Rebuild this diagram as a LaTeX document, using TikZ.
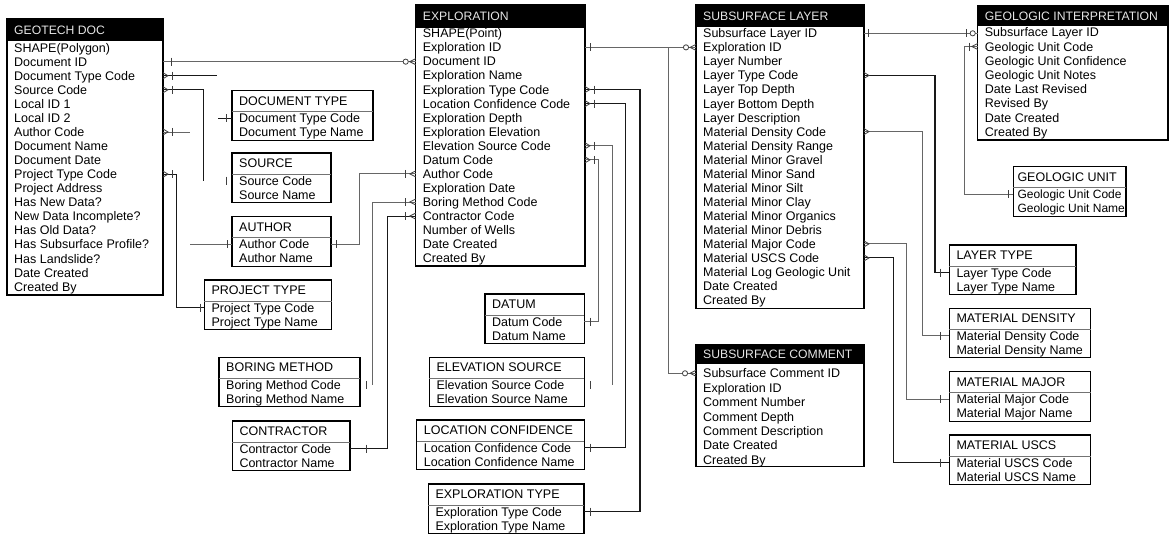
\documentclass[tikz,border=0pt]{standalone}
\usepackage{fontspec}
\setmainfont{Liberation Sans}
\usetikzlibrary{calc,fit}
\def\RS{12.5}
\tikzset{
  box/.style={draw=black, line width=1.3pt, inner sep=0pt, outer sep=0pt, fill=white},
  hdrfill/.style={fill=black, draw=black, line width=1.3pt, inner sep=0pt, outer sep=0pt},
  rowtxt/.style={anchor=base west, inner sep=0pt, font=\fontsize{\RS}{14}\selectfont},
  hdrtxt/.style={anchor=base west, inner sep=0pt, text=black!10, font=\fontsize{12.2}{14}\selectfont},
  lhdrtxt/.style={anchor=base west, inner sep=0pt, font=\fontsize{12.5}{14}\selectfont},
  conn/.style={draw=black!60, line width=0.9pt},
  connd/.style={draw=black!90, line width=1.1pt},
  mk/.style={draw=black!75, line width=0.8pt},
}
\def\LX{7}
\newcommand{\Entity}[7]{%
  \coordinate (#1-nw) at (#2,#3);
  \coordinate (#1-se) at (#4,#6);
  \coordinate (#1-hse) at (#4,#5);
  \node[box, fit=(#1-nw)(#1-se)] (#1) {};
  \node[hdrfill, fit=(#1-nw)(#1-hse)] (#1-hdr) {};
  \node[hdrtxt] (#1-title) at (#2+7,{(#3+#5)/2+4.5}) {#7};
  \foreach \t [count=\i from 0] in \Rows {
    \coordinate (#1-c\i) at (#2,{\F+\i*\P});
    \node[rowtxt] (#1-r\i) at (#2+7,{\F+\i*\P+4.5}) {\t};
  }
}
\newcommand{\Lookup}[7]{%
  \coordinate (#1-nw) at (#2,#3);
  \coordinate (#1-se) at (#4,#3+49.5);
  \node[box, fit=(#1-nw)(#1-se)] (#1) {};
  \draw[draw=black!55, line width=0.9pt] (#2,#3+21) -- (#4,#3+21);
  \node[lhdrtxt] (#1-title) at (#2+\LX,#3+14.5) {#5};
  \coordinate (#1-c0) at (#2,#3+27.5);
  \coordinate (#1-c1) at (#2,#3+41.5);
  \node[rowtxt] (#1-r0) at (#2+\LX,#3+32) {#6};
  \node[rowtxt] (#1-r1) at (#2+\LX,#3+46) {#7};
}
\newcommand{\mkCrowE}[1]{\draw[mk] ($(#1)+(0,-3)$) -- ($(#1)+(5,0)$) -- ($(#1)+(0,3)$);}
\newcommand{\mkCrowW}[1]{\draw[mk] ($(#1)+(0,-3)$) -- ($(#1)+(-6,0)$) -- ($(#1)+(0,3)$);}
\newcommand{\mkTick}[2]{\draw[mk] ($(#1)+(#2,-4)$) -- ($(#1)+(#2,4)$);}
\newcommand{\mkRing}[2]{\draw[mk,fill=white] ($(#1)+(#2,0)$) circle[radius=2.6];}
\begin{document}
\begin{tikzpicture}[x=1pt,y=-1pt]
\useasboundingbox (0,0) rectangle (1170,536);
\fill[white] (0,0) rectangle (1170,536);

% ---------- main entities ----------
\def\F{47.6}\def\P{14.06}
\def\Rows{SHAPE(Polygon),Document ID,Document Type Code,Source Code,Local ID 1,Local ID 2,Author Code,Document Name,Document Date,Project Type Code,Project Address,Has New Data?,New Data Incomplete?,Has Old Data?,Has Subsurface Profile?,Has Landslide?,Date Created,Created By}
\Entity{geo}{7}{19}{163}{40}{295}{GEOTECH DOC}

\def\F{33.3}\def\P{14.06}
\def\Rows{SHAPE(Point),Exploration ID,Document ID,Exploration Name,Exploration Type Code,Location Confidence Code,Exploration Depth,Exploration Elevation,Elevation Source Code,Datum Code,Author Code,Exploration Date,Boring Method Code,Contractor Code,Number of Wells,Date Created,Created By}
\Entity{expl}{415.7}{5}{585}{27.3}{266}{EXPLORATION}

\def\F{33.3}\def\P{14.04}
\def\Rows{Subsurface Layer ID,Exploration ID,Layer Number,Layer Type Code,Layer Top Depth,Layer Bottom Depth,Layer Description,Material Density Code,Material Density Range,Material Minor Gravel,Material Minor Sand,Material Minor Silt,Material Minor Clay,Material Minor Organics,Material Minor Debris,Material Major Code,Material USCS Code,Material Log Geologic Unit,Date Created,Created By}
\Entity{sl}{696}{5}{864}{26.7}{308.3}{SUBSURFACE LAYER}

\def\F{373.3}\def\P{14.4}
\def\Rows{Subsurface Comment ID,Exploration ID,Comment Number,Comment Depth,Comment Description,Date Created,Created By}
\Entity{sc}{696}{345}{864}{363.3}{466.7}{SUBSURFACE COMMENT}

\def\F{32.3}\def\P{14.2}
\def\Rows{Subsurface Layer ID,Geologic Unit Code,Geologic Unit Confidence,Geologic Unit Notes,Date Last Revised,Revised By,Date Created,Created By}
\Entity{gi}{977.7}{6}{1168}{25}{140}{GEOLOGIC INTERPRETATION}

% ---------- lookup tables ----------
\Lookup{doct}{232}{90.7}{373}{DOCUMENT TYPE}{Document Type Code}{Document Type Name}
\Lookup{src}{232}{153}{331}{SOURCE}{Source Code}{Source Name}
\Lookup{auth}{232}{216.7}{331}{AUTHOR}{Author Code}{Author Name}
\Lookup{proj}{204.3}{280}{331.7}{PROJECT TYPE}{Project Type Code}{Project Type Name}
\Lookup{bor}{219}{357.3}{360}{BORING METHOD}{Boring Method Code}{Boring Method Name}
\Lookup{con}{232.3}{421}{350}{CONTRACTOR}{Contractor Code}{Contractor Name}
\Lookup{dat}{485}{294}{584.3}{DATUM}{Datum Code}{Datum Name}
\Lookup{els}{429.3}{357.3}{584.3}{ELEVATION SOURCE}{Elevation Source Code}{Elevation Source Name}
\Lookup{lc}{416.7}{420}{584.3}{LOCATION CONFIDENCE}{Location Confidence Code}{Location Confidence Name}
\Lookup{ext}{428.3}{484}{584}{EXPLORATION TYPE}{Exploration Type Code}{Exploration Type Name}
\Lookup{lt}{949.3}{245}{1076}{LAYER TYPE}{Layer Type Code}{Layer Type Name}
\Lookup{md}{949.3}{308.3}{1090.7}{MATERIAL DENSITY}{Material Density Code}{Material Density Name}
\Lookup{mm}{949.3}{371.7}{1090.7}{MATERIAL MAJOR}{Material Major Code}{Material Major Name}
\Lookup{mu}{949.3}{435}{1090.7}{MATERIAL USCS}{Material USCS Code}{Material USCS Name}
\def\LX{4}\def\RS{12}
\Lookup{gu}{1013.3}{166.7}{1126}{GEOLOGIC UNIT}{Geologic Unit Code}{Geologic Unit Name}

% ---------- connectors ----------
% Geotech doc -> Exploration (Document ID)
\coordinate (k1a) at (geo.east|-geo-c1);
\coordinate (k1b) at (k1a -| expl.west);
\draw[conn] (k1a) -- (k1b);
\mkTick{k1a}{8}\mkCrowW{k1b}\mkRing{k1b}{-10}

% Document type
\coordinate (k2a) at (geo.east|-geo-c2);
\draw[connd] (k2a) -- ++(54,0);
\mkCrowE{k2a}\mkTick{k2a}{9}
\coordinate (k2c) at (doct.west|-doct-c0);
\draw[connd] (k2c) -- ++(-14,0);
\mkTick{k2c}{-6}

% Source
\coordinate (k3a) at (geo.east|-geo-c3);
\coordinate (k3c) at (src.west|-src-c0);
\draw[connd] (k3a) -| ($(k3c)+(-28.7,0)$);
\mkCrowE{k3a}\mkTick{k3a}{9}
\mkTick{k3c}{-6}

% Author (Geotech doc)
\coordinate (k4a) at (geo.east|-geo-c6);
\draw[conn] (k4a) -- ++(27,0);
\mkCrowE{k4a}\mkTick{k4a}{9}
\coordinate (k4c) at (auth.west|-auth-c0);
\draw[conn] (k4c) -- ++(-42,0);
\mkTick{k4c}{-5}

% Project type
\coordinate (k5a) at (geo.east|-geo-c9);
\coordinate (k5b) at (proj.west|-proj-c0);
\draw[connd] (k5a) -- ++(13.7,0) |- (k5b);
\mkCrowE{k5a}\mkTick{k5a}{9}\mkTick{k5b}{-4}

% Author -> Exploration
\coordinate (k6a) at (auth.east|-auth-c0);
\coordinate (k6b) at (expl.west|-expl-c10);
\draw[conn] (k6a) -- ++(28.3,0) |- (k6b);
\mkTick{k6a}{5.7}\mkCrowW{k6b}\mkTick{k6b}{-10}

% Boring method
\coordinate (k7a) at (expl.west|-expl-c12);
\coordinate (k7c) at (bor.east|-bor-c0);
\draw[conn] (k7a) -| ($(k7c)+(12.3,0)$);
\mkCrowW{k7a}\mkTick{k7a}{-10}\mkTick{k7c}{6}

% Contractor
\coordinate (k8a) at (expl.west|-expl-c13);
\coordinate (k8b) at (con.east|-con-c0);
\draw[connd] (k8a) -| ($(k8b)+(37.7,0)$) -- (k8b);
\mkCrowW{k8a}\mkTick{k8a}{-10}\mkTick{k8b}{16}

% Exploration -> Subsurface layer / comment
\coordinate (k9a) at (expl.east|-expl-c1);
\coordinate (k9b) at (k9a -| sl.west);
\draw[conn] (k9a) -- (k9b);
\mkTick{k9a}{5}\mkCrowW{k9b}\mkRing{k9b}{-10}
\coordinate (k9d) at (sc.west|-sc-c0);
\draw[conn] ($(k9b)+(-28,0)$) |- (k9d);
\mkCrowW{k9d}\mkRing{k9d}{-11}

% Exploration type
\coordinate (k10a) at (expl.east|-expl-c4);
\coordinate (k10b) at (ext.east|-ext-c0);
\draw[connd] (k10a) -| ($(k10b)+(56,0)$) -- (k10b);
\mkCrowE{k10a}\mkTick{k10a}{9}\mkTick{k10b}{6}

% Location confidence
\coordinate (k11a) at (expl.east|-expl-c5);
\coordinate (k11b) at (lc.east|-lc-c0);
\draw[connd] (k11a) -| ($(k11b)+(41,0)$) -- (k11b);
\mkCrowE{k11a}\mkTick{k11a}{9}\mkTick{k11b}{6}

% Elevation source
\coordinate (k12a) at (expl.east|-expl-c8);
\coordinate (k12b) at (els.east|-els-c0);
\draw[conn] (k12a) -| ($(k12b)+(27.7,0)$);
\mkCrowE{k12a}\mkTick{k12a}{9}\mkTick{k12b}{6}

% Datum
\coordinate (k13a) at (expl.east|-expl-c9);
\coordinate (k13b) at (dat.east|-dat-c0);
\draw[conn] (k13a) -| ($(k13b)+(14,0)$) -- (k13b);
\mkCrowE{k13a}\mkTick{k13a}{9}\mkTick{k13b}{6}

% Subsurface layer -> Geologic interpretation
\coordinate (k14a) at (sl.east|-sl-c0);
\coordinate (k14b) at (k14a -| gi.west);
\draw[conn] (k14a) -- (k14b);
\mkTick{k14a}{4}\mkTick{k14b}{-11}\mkRing{k14b}{-5}

% Layer type
\coordinate (k15a) at (sl.east|-sl-c3);
\coordinate (k15b) at (lt.west|-lt-c0);
\draw[connd] (k15a) -| ($(k15b)+(-14.3,0)$) -- (k15b);
\mkCrowE{k15a}\mkTick{k15b}{-9}

% Material density
\coordinate (k16a) at (sl.east|-sl-c7);
\coordinate (k16b) at (md.west|-md-c0);
\draw[conn] (k16a) -| ($(k16b)+(-27.3,0)$) -- (k16b);
\mkCrowE{k16a}\mkTick{k16b}{-9}

% Material major
\coordinate (k17a) at (sl.east|-sl-c15);
\coordinate (k17b) at (mm.west|-mm-c0);
\draw[conn] (k17a) -| ($(k17b)+(-42.6,0)$) -- (k17b);
\mkCrowE{k17a}\mkTick{k17b}{-9}

% Material USCS
\coordinate (k18a) at (sl.east|-sl-c16);
\coordinate (k18b) at (mu.west|-mu-c0);
\draw[connd] (k18a) -| ($(k18b)+(-56,0)$) -- (k18b);
\mkCrowE{k18a}\mkTick{k18b}{-9}

% Geologic interpretation -> Geologic unit
\coordinate (k19a) at (gi.west|-gi-c1);
\coordinate (k19b) at (gu.west|-gu-c0);
\draw[conn] (k19a) -- ++(-13.4,0) |- (k19b);
\mkCrowW{k19a}\mkTick{k19a}{-8}\mkTick{k19b}{-5}
\end{tikzpicture}
\end{document}
